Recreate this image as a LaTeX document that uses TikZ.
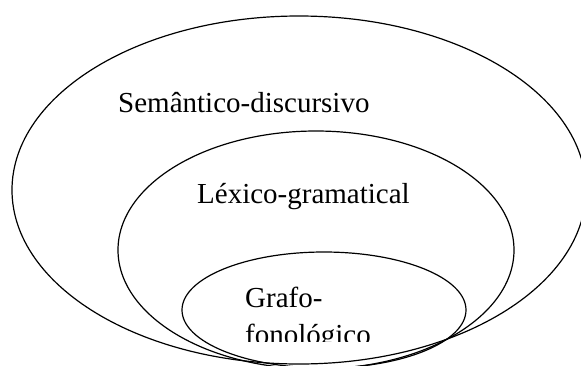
\documentclass[tikz,border=0pt]{standalone}
\usepackage{fontspec}
\setmainfont{Liberation Serif}
\begin{document}
\begin{tikzpicture}[x=1pt,y=-1pt,
  ring/.style={draw=black,line width=1.2pt},
  lbl/.style={anchor=base west,inner sep=0pt,font=\fontsize{29}{33}\selectfont}]
\useasboundingbox (0,0) rectangle (581,365);
\clip (0,0) rectangle (581,365);
\draw[ring] (299,190) ellipse [x radius=287, y radius=174];
\draw[ring] (316,250) ellipse [x radius=198, y radius=119];
\draw[ring] (324,310) ellipse [x radius=142, y radius=58];
\node[lbl] (sem) at (118,112) {Semântico-discursivo};
\node[lbl] (lex) at (197,203) {Léxico-gramatical};
\node[lbl] (gra) at (245,307) {Grafo-};
\begin{scope}
\clip (0,0) rectangle (581,341);
\node[lbl] (fon) at (245,344) {fonológico};
\end{scope}
\end{tikzpicture}
\end{document}
